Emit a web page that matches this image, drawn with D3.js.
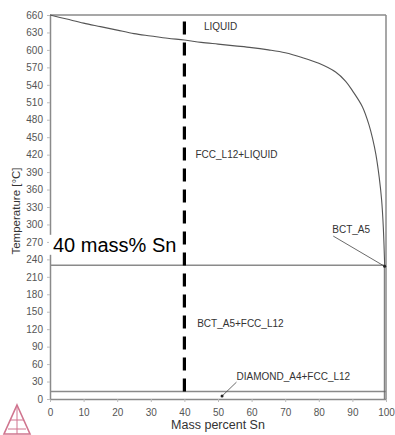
<!DOCTYPE html>
<html>
<head>
<meta charset="utf-8">
<script src="https://cdn.jsdelivr.net/npm/d3@7"></script>
<style>
  body { margin: 0; background: #fff; }
  svg { display: block; font-family: Arial, "Liberation Sans", sans-serif; }
</style>
</head>
<body>
<div id="chart"></div>
<script>
// liquidus, mass% Sn vs temperature
const liquidusSn = [0, 5, 10, 15, 20, 25, 30, 35, 40, 45, 50, 55, 60, 65, 70, 75, 80, 85, 88, 90, 93, 95, 96, 97, 98, 98.7, 99.2, 99.6];
const liquidusT = [660, 653, 646, 640, 634, 628, 624, 620, 617, 613, 610, 607, 604, 600, 595, 587, 577, 562, 546, 530, 502, 470, 448, 420, 380, 342, 295, 230];
const eutecticT = 230;
const transT = 13;
const solvusSn = 99.5;
const markSn = 40;
const markTop = 649;
const xTicks = [0, 10, 20, 30, 40, 50, 60, 70, 80, 90, 100];
const yTicks = d3.range(0, 661, 30);
const phaseLabels = ['LIQUID', 'FCC_L12+LIQUID', 'BCT_A5', 'BCT_A5+FCC_L12', 'DIAMOND_A4+FCC_L12'];
const labelSn = [45.8, 43.3, 84, 43.8, 55.5];
const labelT = [635, 414, 285, 124, 33];

const width = 395, height = 435;
const margin = { top: 15, right: 9, bottom: 36, left: 50 };

const svg = d3.select('#chart').append('svg')
  .attr('width', width)
  .attr('height', height);

const x = d3.scaleLinear().domain([0, 100]).range([margin.left, width - margin.right]);
const y = d3.scaleLinear().domain([0, 660]).range([height - margin.bottom, margin.top]);

const axisColor = '#8a8a8a';

// frame top + right
svg.append('line')
  .attr('x1', x(0)).attr('x2', x(100))
  .attr('y1', y(660)).attr('y2', y(660))
  .attr('stroke', axisColor).attr('stroke-width', 1.5);
svg.append('line')
  .attr('x1', x(100)).attr('x2', x(100))
  .attr('y1', y(660)).attr('y2', y(0))
  .attr('stroke', axisColor).attr('stroke-width', 1.5);

// axes
const gx = svg.append('g')
  .attr('transform', `translate(0, ${y(0)})`)
  .call(d3.axisBottom(x).tickValues(xTicks).tickSize(3).tickSizeOuter(0));
const gy = svg.append('g')
  .attr('transform', `translate(${x(0)}, 0)`)
  .call(d3.axisLeft(y).tickValues(yTicks).tickSize(3).tickSizeOuter(0));

[gx, gy].forEach(g => {
  g.select('.domain').attr('stroke', axisColor).attr('stroke-width', 1.5);
  g.selectAll('.tick line').attr('stroke', '#bbb');
  g.selectAll('.tick text')
    .attr('fill', '#555')
    .style('font-size', '10px')
    .style('font-family', 'Arial, "Liberation Sans", sans-serif');
});
gx.selectAll('.tick text').attr('dy', '1.1em');
gy.selectAll('.tick text').attr('dx', '-1px');

// horizontal invariant lines
[eutecticT, transT].forEach(t => {
  svg.append('line')
    .attr('x1', x(0)).attr('x2', x(100))
    .attr('y1', y(t)).attr('y2', y(t))
    .attr('stroke', axisColor).attr('stroke-width', 1.5);
});

// Sn-side solvus
svg.append('line')
  .attr('x1', x(solvusSn)).attr('x2', x(solvusSn))
  .attr('y1', y(eutecticT)).attr('y2', y(0))
  .attr('stroke', '#666').attr('stroke-width', 1);

// liquidus
const line = d3.line()
  .x(d => x(d[0]))
  .y(d => y(d[1]))
  .curve(d3.curveCatmullRom.alpha(0.5));
svg.append('path')
  .datum(liquidusSn.map((s, i) => [s, liquidusT[i]]))
  .attr('d', line)
  .attr('fill', 'none')
  .attr('stroke', '#555')
  .attr('stroke-width', 1.1);

// phase labels
svg.selectAll('.phase')
  .data(phaseLabels)
  .enter()
  .append('text')
  .attr('class', 'phase')
  .attr('x', (d, i) => x(labelSn[i]))
  .attr('y', (d, i) => y(labelT[i]))
  .attr('fill', '#333')
  .style('font-size', '10px')
  .text(d => d);

// pointer arrows
const pointers = [
  [[84.3, 280], [99.6, 228]],
  [[55.5, 29], [51.2, 5]]
];
pointers.forEach(p => {
  svg.append('line')
    .attr('x1', x(p[0][0])).attr('y1', y(p[0][1]))
    .attr('x2', x(p[1][0])).attr('y2', y(p[1][1]))
    .attr('stroke', '#444').attr('stroke-width', 0.8);
  svg.append('circle')
    .attr('cx', x(p[1][0])).attr('cy', y(p[1][1]))
    .attr('r', 1.5).attr('fill', '#222');
});

// composition marker
svg.append('line')
  .attr('x1', x(markSn)).attr('x2', x(markSn))
  .attr('y1', y(markTop)).attr('y2', y(0))
  .attr('stroke', '#000')
  .attr('stroke-width', 3.2)
  .attr('stroke-dasharray', '13,8');

const markLabel = svg.append('g');
const mlText = markLabel.append('text')
  .attr('x', x(0) + 3)
  .attr('y', y(253))
  .attr('fill', '#000')
  .style('font-size', '20px')
  .text(`${markSn} mass% Sn`);
const bb = mlText.node().getBBox();
markLabel.insert('rect', 'text')
  .attr('x', bb.x - 4).attr('y', bb.y + 1)
  .attr('width', bb.width + 6).attr('height', bb.height - 2)
  .attr('fill', '#fff');

// axis titles
svg.append('text')
  .attr('x', (x(0) + x(100)) / 2)
  .attr('y', 429)
  .attr('text-anchor', 'middle')
  .attr('fill', '#333')
  .style('font-size', '12.5px')
  .text('Mass percent Sn');
svg.append('text')
  .attr('transform', `translate(20, ${(y(0) + y(660)) / 2 + 4}) rotate(-90)`)
  .attr('text-anchor', 'middle')
  .attr('fill', '#333')
  .style('font-size', '11.5px')
  .text('Temperature [°C]');

// logo
const logo = svg.append('g')
  .attr('transform', 'translate(4, 405)')
  .attr('fill', 'none')
  .attr('stroke', '#d0758f')
  .attr('stroke-width', 1.6);
logo.append('path').attr('d', 'M13,0 L26,29 L0,29 Z');
logo.append('path').attr('d', 'M13,0 L13,29 M6,15 L20,15 M4,24 L22,24').attr('stroke-width', 1);
</script>
</body>
</html>
